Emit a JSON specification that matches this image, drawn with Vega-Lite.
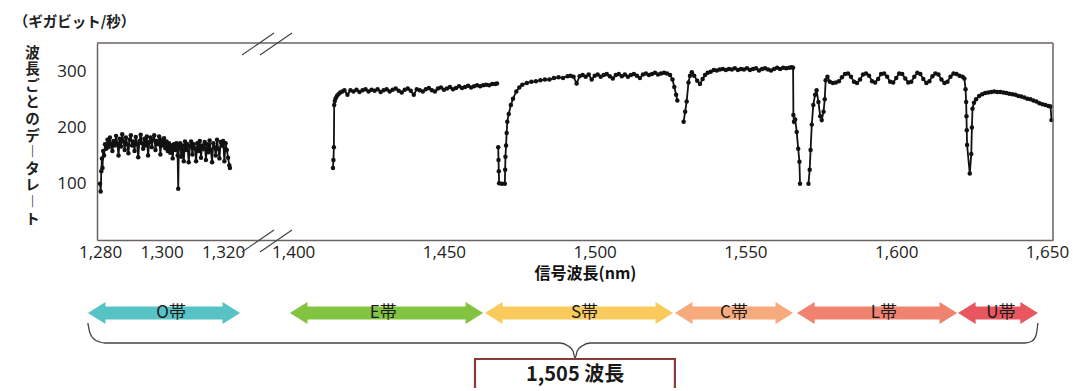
{
  "$schema": "https://vega.github.io/schema/vega-lite/v6.json",
  "padding": {"left": 13, "top": 15, "right": 0, "bottom": 0},
  "background": "white",
  "title": {"text": "（ギガビット/秒）", "anchor": "start", "dx": -11, "dy": 4, "font": "Noto Sans CJK JP", "fontSize": 14.5, "fontWeight": "bold", "color": "#222222", "offset": 4},
  "config": {"view": {"stroke": null}, "font": "Noto Sans CJK JP"},
  "spacing": 10,
  "datasets": {
    "left": [
      {"nm":1280.0,"rate":100},{"nm":1280.2,"rate":86},{"nm":1280.4,"rate":122},{"nm":1280.6,"rate":145},{"nm":1280.8,"rate":128},{"nm":1281.0,"rate":158},{"nm":1281.3,"rate":150},{"nm":1281.6,"rate":170},{"nm":1282.0,"rate":162},{"nm":1282.4,"rate":178},{"nm":1282.8,"rate":165},{"nm":1283.2,"rate":182},{"nm":1283.6,"rate":170},{"nm":1284.0,"rate":158},{"nm":1284.4,"rate":176},{"nm":1284.8,"rate":168},{"nm":1285.2,"rate":185},{"nm":1285.6,"rate":172},{"nm":1286.0,"rate":150},{"nm":1286.4,"rate":180},{"nm":1286.8,"rate":166},{"nm":1287.2,"rate":188},{"nm":1287.6,"rate":175},{"nm":1288.0,"rate":160},{"nm":1288.4,"rate":182},{"nm":1288.8,"rate":170},{"nm":1289.2,"rate":154},{"nm":1289.6,"rate":178},{"nm":1290.0,"rate":186},{"nm":1290.4,"rate":168},{"nm":1290.8,"rate":175},{"nm":1291.2,"rate":158},{"nm":1291.6,"rate":183},{"nm":1292.0,"rate":170},{"nm":1292.4,"rate":147},{"nm":1292.8,"rate":176},{"nm":1293.2,"rate":187},{"nm":1293.6,"rate":172},{"nm":1294.0,"rate":162},{"nm":1294.4,"rate":180},{"nm":1294.8,"rate":168},{"nm":1295.2,"rate":184},{"nm":1295.6,"rate":150},{"nm":1296.0,"rate":174},{"nm":1296.4,"rate":182},{"nm":1296.8,"rate":165},{"nm":1297.2,"rate":178},{"nm":1297.6,"rate":186},{"nm":1298.0,"rate":160},{"nm":1298.4,"rate":176},{"nm":1298.8,"rate":170},{"nm":1299.2,"rate":184},{"nm":1299.6,"rate":152},{"nm":1300.0,"rate":178},{"nm":1300.4,"rate":168},{"nm":1300.8,"rate":181},{"nm":1301.2,"rate":163},{"nm":1301.6,"rate":175},{"nm":1302.0,"rate":158},{"nm":1302.4,"rate":172},{"nm":1302.8,"rate":155},{"nm":1303.2,"rate":168},{"nm":1303.6,"rate":145},{"nm":1304.0,"rate":170},{"nm":1304.4,"rate":160},{"nm":1304.8,"rate":172},{"nm":1305.2,"rate":150},{"nm":1305.4,"rate":91},{"nm":1305.6,"rate":166},{"nm":1306.0,"rate":172},{"nm":1306.4,"rate":148},{"nm":1306.8,"rate":168},{"nm":1307.2,"rate":140},{"nm":1307.6,"rate":175},{"nm":1308.0,"rate":160},{"nm":1308.4,"rate":170},{"nm":1308.8,"rate":138},{"nm":1309.2,"rate":166},{"nm":1309.6,"rate":175},{"nm":1310.0,"rate":152},{"nm":1310.4,"rate":170},{"nm":1310.8,"rate":163},{"nm":1311.2,"rate":140},{"nm":1311.6,"rate":172},{"nm":1312.0,"rate":158},{"nm":1312.4,"rate":176},{"nm":1312.8,"rate":146},{"nm":1313.2,"rate":168},{"nm":1313.6,"rate":162},{"nm":1314.0,"rate":174},{"nm":1314.4,"rate":142},{"nm":1314.8,"rate":170},{"nm":1315.2,"rate":156},{"nm":1315.6,"rate":177},{"nm":1316.0,"rate":160},{"nm":1316.4,"rate":138},{"nm":1316.8,"rate":172},{"nm":1317.2,"rate":165},{"nm":1317.6,"rate":150},{"nm":1318.0,"rate":178},{"nm":1318.4,"rate":162},{"nm":1318.8,"rate":145},{"nm":1319.2,"rate":174},{"nm":1319.6,"rate":168},{"nm":1320.0,"rate":176},{"nm":1320.4,"rate":140},{"nm":1320.8,"rate":172},{"nm":1321.2,"rate":160},{"nm":1321.6,"rate":146},{"nm":1322.0,"rate":133},{"nm":1322.2,"rate":128}
    ],
    "right": [
      {"nm":1413.2,"rate":128,"seg":"E"},{"nm":1413.35,"rate":142,"seg":"E"},{"nm":1413.5,"rate":165,"seg":"E"},{"nm":1413.6,"rate":240,"seg":"E"},{"nm":1413.8,"rate":247,"seg":"E"},{"nm":1414.1,"rate":252,"seg":"E"},{"nm":1414.5,"rate":256,"seg":"E"},{"nm":1415,"rate":259,"seg":"E"},{"nm":1415.6,"rate":262,"seg":"E"},{"nm":1416.3,"rate":264,"seg":"E"},{"nm":1417,"rate":266,"seg":"E"},{"nm":1418,"rate":258,"seg":"E"},{"nm":1419,"rate":266,"seg":"E"},{"nm":1420,"rate":264,"seg":"E"},{"nm":1421,"rate":267,"seg":"E"},{"nm":1422,"rate":263,"seg":"E"},{"nm":1423,"rate":266,"seg":"E"},{"nm":1424,"rate":268,"seg":"E"},{"nm":1425,"rate":264,"seg":"E"},{"nm":1426,"rate":267,"seg":"E"},{"nm":1427,"rate":265,"seg":"E"},{"nm":1428,"rate":268,"seg":"E"},{"nm":1429,"rate":263,"seg":"E"},{"nm":1430,"rate":266,"seg":"E"},{"nm":1431,"rate":268,"seg":"E"},{"nm":1432,"rate":264,"seg":"E"},{"nm":1433,"rate":267,"seg":"E"},{"nm":1434,"rate":269,"seg":"E"},{"nm":1435,"rate":265,"seg":"E"},{"nm":1436,"rate":262,"seg":"E"},{"nm":1437,"rate":267,"seg":"E"},{"nm":1438,"rate":269,"seg":"E"},{"nm":1439,"rate":265,"seg":"E"},{"nm":1440,"rate":258,"seg":"E"},{"nm":1441,"rate":268,"seg":"E"},{"nm":1442,"rate":266,"seg":"E"},{"nm":1443,"rate":264,"seg":"E"},{"nm":1444,"rate":268,"seg":"E"},{"nm":1445,"rate":270,"seg":"E"},{"nm":1446,"rate":266,"seg":"E"},{"nm":1447,"rate":264,"seg":"E"},{"nm":1448,"rate":269,"seg":"E"},{"nm":1449,"rate":271,"seg":"E"},{"nm":1450,"rate":267,"seg":"E"},{"nm":1451,"rate":269,"seg":"E"},{"nm":1452,"rate":272,"seg":"E"},{"nm":1453,"rate":268,"seg":"E"},{"nm":1454,"rate":270,"seg":"E"},{"nm":1455,"rate":273,"seg":"E"},{"nm":1456,"rate":270,"seg":"E"},{"nm":1457,"rate":272,"seg":"E"},{"nm":1458,"rate":274,"seg":"E"},{"nm":1459,"rate":271,"seg":"E"},{"nm":1460,"rate":273,"seg":"E"},{"nm":1461,"rate":275,"seg":"E"},{"nm":1462,"rate":273,"seg":"E"},{"nm":1463,"rate":275,"seg":"E"},{"nm":1464,"rate":276,"seg":"E"},{"nm":1465,"rate":275,"seg":"E"},{"nm":1466,"rate":277,"seg":"E"},{"nm":1467,"rate":277,"seg":"E"},{"nm":1467.6,"rate":278,"seg":"E"},
      {"nm":1468.0,"rate":165,"seg":"S"},{"nm":1468.1,"rate":142,"seg":"S"},{"nm":1468.2,"rate":122,"seg":"S"},{"nm":1468.3,"rate":101,"seg":"S"},{"nm":1469.2,"rate":100,"seg":"S"},{"nm":1470.2,"rate":100,"seg":"S"},{"nm":1470.3,"rate":125,"seg":"S"},{"nm":1470.4,"rate":148,"seg":"S"},{"nm":1470.6,"rate":168,"seg":"S"},{"nm":1470.8,"rate":190,"seg":"S"},{"nm":1471.0,"rate":210,"seg":"S"},{"nm":1471.5,"rate":224,"seg":"S"},{"nm":1472.2,"rate":240,"seg":"S"},{"nm":1472.9,"rate":251,"seg":"S"},{"nm":1474,"rate":264,"seg":"S"},{"nm":1475,"rate":271,"seg":"S"},{"nm":1476,"rate":276,"seg":"S"},{"nm":1477.5,"rate":279,"seg":"S"},{"nm":1479,"rate":281,"seg":"S"},{"nm":1480.5,"rate":282,"seg":"S"},{"nm":1482,"rate":284,"seg":"S"},{"nm":1483.5,"rate":285,"seg":"S"},{"nm":1485,"rate":285,"seg":"S"},{"nm":1486.5,"rate":288,"seg":"S"},{"nm":1488,"rate":289,"seg":"S"},{"nm":1489.5,"rate":288,"seg":"S"},{"nm":1491,"rate":291,"seg":"S"},{"nm":1492,"rate":292,"seg":"S"},{"nm":1493,"rate":290,"seg":"S"},{"nm":1494,"rate":278,"seg":"S"},{"nm":1495,"rate":291,"seg":"S"},{"nm":1496,"rate":293,"seg":"S"},{"nm":1497,"rate":290,"seg":"S"},{"nm":1498,"rate":294,"seg":"S"},{"nm":1499,"rate":285,"seg":"S"},{"nm":1500,"rate":292,"seg":"S"},{"nm":1501,"rate":294,"seg":"S"},{"nm":1502,"rate":290,"seg":"S"},{"nm":1503,"rate":293,"seg":"S"},{"nm":1504,"rate":295,"seg":"S"},{"nm":1505,"rate":291,"seg":"S"},{"nm":1506,"rate":287,"seg":"S"},{"nm":1507,"rate":293,"seg":"S"},{"nm":1508,"rate":295,"seg":"S"},{"nm":1509,"rate":291,"seg":"S"},{"nm":1510,"rate":294,"seg":"S"},{"nm":1511,"rate":290,"seg":"S"},{"nm":1512,"rate":293,"seg":"S"},{"nm":1513,"rate":295,"seg":"S"},{"nm":1514,"rate":292,"seg":"S"},{"nm":1515,"rate":288,"seg":"S"},{"nm":1516,"rate":294,"seg":"S"},{"nm":1517,"rate":296,"seg":"S"},{"nm":1518,"rate":293,"seg":"S"},{"nm":1519,"rate":295,"seg":"S"},{"nm":1520,"rate":297,"seg":"S"},{"nm":1521,"rate":294,"seg":"S"},{"nm":1522,"rate":296,"seg":"S"},{"nm":1523,"rate":297,"seg":"S"},{"nm":1524,"rate":296,"seg":"S"},{"nm":1525,"rate":293,"seg":"S"},{"nm":1525.8,"rate":285,"seg":"S"},{"nm":1526.4,"rate":272,"seg":"S"},{"nm":1527.0,"rate":258,"seg":"S"},{"nm":1527.4,"rate":248,"seg":"S"},
      {"nm":1529.5,"rate":210,"seg":"C"},{"nm":1530.0,"rate":228,"seg":"C"},{"nm":1530.5,"rate":246,"seg":"C"},{"nm":1531.1,"rate":280,"seg":"C"},{"nm":1531.6,"rate":292,"seg":"C"},{"nm":1532.2,"rate":298,"seg":"C"},{"nm":1533,"rate":292,"seg":"C"},{"nm":1534,"rate":283,"seg":"C"},{"nm":1534.9,"rate":277,"seg":"C"},{"nm":1535.8,"rate":286,"seg":"C"},{"nm":1536.6,"rate":293,"seg":"C"},{"nm":1537.5,"rate":297,"seg":"C"},{"nm":1538.5,"rate":299,"seg":"C"},{"nm":1539.5,"rate":302,"seg":"C"},{"nm":1540.5,"rate":301,"seg":"C"},{"nm":1541.5,"rate":303,"seg":"C"},{"nm":1542.5,"rate":304,"seg":"C"},{"nm":1543.5,"rate":302,"seg":"C"},{"nm":1544.5,"rate":304,"seg":"C"},{"nm":1545.5,"rate":303,"seg":"C"},{"nm":1546.5,"rate":305,"seg":"C"},{"nm":1547.5,"rate":302,"seg":"C"},{"nm":1548.5,"rate":304,"seg":"C"},{"nm":1549.5,"rate":303,"seg":"C"},{"nm":1550.5,"rate":305,"seg":"C"},{"nm":1551.5,"rate":302,"seg":"C"},{"nm":1552.5,"rate":304,"seg":"C"},{"nm":1553.5,"rate":305,"seg":"C"},{"nm":1554.5,"rate":301,"seg":"C"},{"nm":1555.5,"rate":304,"seg":"C"},{"nm":1556.5,"rate":305,"seg":"C"},{"nm":1557.5,"rate":303,"seg":"C"},{"nm":1558.5,"rate":301,"seg":"C"},{"nm":1559.5,"rate":304,"seg":"C"},{"nm":1560.5,"rate":306,"seg":"C"},{"nm":1561.5,"rate":304,"seg":"C"},{"nm":1562.5,"rate":306,"seg":"C"},{"nm":1563.5,"rate":305,"seg":"C"},{"nm":1564.5,"rate":306,"seg":"C"},{"nm":1565.3,"rate":307,"seg":"C"},{"nm":1565.8,"rate":306,"seg":"C"},{"nm":1565.9,"rate":222,"seg":"C"},{"nm":1566.1,"rate":210,"seg":"C"},{"nm":1566.5,"rate":214,"seg":"C"},{"nm":1567.0,"rate":192,"seg":"C"},{"nm":1567.5,"rate":162,"seg":"C"},{"nm":1567.9,"rate":139,"seg":"C"},{"nm":1568.1,"rate":100,"seg":"C"},
      {"nm":1570.9,"rate":100,"seg":"L"},{"nm":1571.3,"rate":125,"seg":"L"},{"nm":1571.6,"rate":160,"seg":"L"},{"nm":1572.0,"rate":205,"seg":"L"},{"nm":1572.5,"rate":240,"seg":"L"},{"nm":1573.1,"rate":258,"seg":"L"},{"nm":1573.6,"rate":266,"seg":"L"},{"nm":1574.2,"rate":245,"seg":"L"},{"nm":1574.8,"rate":220,"seg":"L"},{"nm":1575.3,"rate":213,"seg":"L"},{"nm":1575.9,"rate":228,"seg":"L"},{"nm":1576.3,"rate":250,"seg":"L"},{"nm":1576.6,"rate":284,"seg":"L"},{"nm":1577.2,"rate":290,"seg":"L"},{"nm":1578,"rate":281,"seg":"L"},{"nm":1579,"rate":279,"seg":"L"},{"nm":1580,"rate":280,"seg":"L"},{"nm":1581,"rate":282,"seg":"L"},{"nm":1582,"rate":289,"seg":"L"},{"nm":1583,"rate":295,"seg":"L"},{"nm":1584,"rate":296,"seg":"L"},{"nm":1585,"rate":290,"seg":"L"},{"nm":1586,"rate":281,"seg":"L"},{"nm":1587,"rate":279,"seg":"L"},{"nm":1588,"rate":285,"seg":"L"},{"nm":1589,"rate":294,"seg":"L"},{"nm":1590,"rate":296,"seg":"L"},{"nm":1591,"rate":292,"seg":"L"},{"nm":1592,"rate":282,"seg":"L"},{"nm":1593,"rate":280,"seg":"L"},{"nm":1594,"rate":286,"seg":"L"},{"nm":1595,"rate":295,"seg":"L"},{"nm":1596,"rate":296,"seg":"L"},{"nm":1597,"rate":290,"seg":"L"},{"nm":1598,"rate":281,"seg":"L"},{"nm":1599,"rate":280,"seg":"L"},{"nm":1600,"rate":288,"seg":"L"},{"nm":1601,"rate":296,"seg":"L"},{"nm":1602,"rate":295,"seg":"L"},{"nm":1603,"rate":287,"seg":"L"},{"nm":1604,"rate":280,"seg":"L"},{"nm":1605,"rate":281,"seg":"L"},{"nm":1606,"rate":290,"seg":"L"},{"nm":1607,"rate":297,"seg":"L"},{"nm":1608,"rate":295,"seg":"L"},{"nm":1609,"rate":286,"seg":"L"},{"nm":1610,"rate":279,"seg":"L"},{"nm":1611,"rate":282,"seg":"L"},{"nm":1612,"rate":291,"seg":"L"},{"nm":1613,"rate":296,"seg":"L"},{"nm":1614,"rate":294,"seg":"L"},{"nm":1615,"rate":285,"seg":"L"},{"nm":1616,"rate":279,"seg":"L"},{"nm":1617,"rate":281,"seg":"L"},{"nm":1618,"rate":290,"seg":"L"},{"nm":1619,"rate":296,"seg":"L"},{"nm":1620,"rate":295,"seg":"L"},{"nm":1621,"rate":292,"seg":"L"},{"nm":1622,"rate":290,"seg":"L"},{"nm":1622.6,"rate":287,"seg":"L"},{"nm":1623.0,"rate":268,"seg":"L"},{"nm":1623.2,"rate":245,"seg":"L"},{"nm":1623.3,"rate":220,"seg":"L"},{"nm":1623.4,"rate":195,"seg":"L"},{"nm":1623.5,"rate":169,"seg":"L"},{"nm":1624.4,"rate":118,"seg":"L"},{"nm":1624.9,"rate":153,"seg":"L"},{"nm":1625.1,"rate":200,"seg":"L"},{"nm":1625.3,"rate":233,"seg":"L"},{"nm":1625.8,"rate":244,"seg":"L"},{"nm":1626.5,"rate":250,"seg":"L"},{"nm":1627.5,"rate":256,"seg":"L"},{"nm":1628.5,"rate":259,"seg":"L"},{"nm":1629.5,"rate":261,"seg":"L"},{"nm":1630.5,"rate":262,"seg":"L"},{"nm":1631.5,"rate":263,"seg":"L"},{"nm":1632.5,"rate":264,"seg":"L"},{"nm":1633.5,"rate":263,"seg":"L"},{"nm":1634.5,"rate":263,"seg":"L"},{"nm":1635.5,"rate":262,"seg":"L"},{"nm":1636.5,"rate":261,"seg":"L"},{"nm":1637.5,"rate":260,"seg":"L"},{"nm":1638.5,"rate":259,"seg":"L"},{"nm":1639.5,"rate":258,"seg":"L"},{"nm":1640.5,"rate":256,"seg":"L"},{"nm":1641.5,"rate":255,"seg":"L"},{"nm":1642.5,"rate":253,"seg":"L"},{"nm":1643.5,"rate":251,"seg":"L"},{"nm":1644.5,"rate":250,"seg":"L"},{"nm":1645.5,"rate":248,"seg":"L"},{"nm":1646.5,"rate":246,"seg":"L"},{"nm":1647.5,"rate":243,"seg":"L"},{"nm":1648.5,"rate":241,"seg":"L"},{"nm":1649.5,"rate":240,"seg":"L"},{"nm":1650.5,"rate":238,"seg":"L"},{"nm":1651.2,"rate":237,"seg":"L"},{"nm":1651.5,"rate":213,"seg":"L"}
    ],
    "bands": [
      {"band":"O帯","from":1331.9,"to":1382.4,"mid":1359.5},
      {"band":"E帯","from":1398.9,"to":1463.0,"mid":1429.9},
      {"band":"S帯","from":1463.6,"to":1526.0,"mid":1496.6},
      {"band":"C帯","from":1526.6,"to":1565.8,"mid":1546.2},
      {"band":"L帯","from":1567.1,"to":1620.2,"mid":1595.9},
      {"band":"U帯","from":1620.5,"to":1647.0,"mid":1634.7}
    ],
    "brace": [
      {"x":1331.9,"v":32},{"x":1332.6,"v":42},{"x":1333.9,"v":48},{"x":1335.9,"v":51},{"x":1337.6,"v":52},{"x":1488.5,"v":52},{"x":1491.2,"v":55},{"x":1492.8,"v":60},{"x":1493.5,"v":67},{"x":1494.2,"v":60},{"x":1495.8,"v":55},{"x":1498.5,"v":52},{"x":1642.7,"v":52},{"x":1645.1,"v":50},{"x":1646.4,"v":44},{"x":1647.0,"v":32}
    ]
  },
  "vconcat": [
    {
      "hconcat": [
        {
          "width": 160,
          "height": 197,
          "layer": [
            {
              "data": {"name": "left"},
              "mark": {"type": "line", "color": "#111111", "strokeWidth": 1.8, "point": {"filled": true, "size": 20, "color": "#111111"}},
              "encoding": {
                "x": {"field": "nm", "type": "quantitative", "scale": {"domain": [1279, 1331], "nice": false, "zero": false},
                  "axis": {"values": [1280, 1300, 1320], "format": ",d", "title": null, "ticks": false, "grid": false, "domainColor": "#6b6262", "domainWidth": 1.5, "labelFont": "Open Sans", "labelFontSize": 17, "labelColor": "#222222", "labelPadding": 4, "labelFlush": false, "labelOverlap": false}},
                "y": {"field": "rate", "type": "quantitative", "scale": {"domain": [0, 350], "nice": false},
                  "axis": {"values": [100, 200, 300], "ticks": false, "grid": false, "domainColor": "#6b6262", "domainWidth": 1.5, "labelFont": "Open Sans", "labelFontSize": 17, "labelColor": "#222222", "labelPadding": 11, "labelFlush": false,
                    "title": ["波", "長", "ご", "と", "の", "デ", "︱", "タ", "レ", "︱", "ト"], "titleAngle": 0, "titleFont": "Noto Sans CJK JP", "titleFontSize": 14.5, "titleFontWeight": "bold", "titleLineHeight": 16.6, "titleX": -65, "titleY": 3, "titleAlign": "center", "titleBaseline": "top", "titleColor": "#222222"}}
              }
            },
            {
              "data": {"values": [{}]},
              "mark": {"type": "rule", "color": "#6b6262", "strokeWidth": 1.5},
              "encoding": {"y": {"datum": 350}}
            }
          ]
        },
        {
          "width": 796,
          "height": 197,
          "layer": [
            {
              "data": {"name": "right"},
              "mark": {"type": "line", "color": "#111111", "strokeWidth": 1.8, "point": {"filled": true, "size": 20, "color": "#111111"}},
              "encoding": {
                "x": {"field": "nm", "type": "quantitative", "scale": {"domain": [1388, 1652], "nice": false, "zero": false},
                  "axis": {"values": [1400, 1450, 1500, 1550, 1600, 1650], "format": ",d", "ticks": false, "grid": false, "domainColor": "#6b6262", "domainWidth": 1.5, "labelFont": "Open Sans", "labelFontSize": 17, "labelColor": "#222222", "labelPadding": 4, "labelFlush": false, "labelOverlap": false,
                    "title": "信号波長(nm)", "titleFont": "Noto Sans CJK JP", "titleFontSize": 16, "titleFontWeight": "bold", "titleColor": "#111111", "titleX": 328, "titleAlign": "center", "titlePadding": 5}},
                "y": {"field": "rate", "type": "quantitative", "scale": {"domain": [0, 350], "nice": false}, "axis": null},
                "detail": {"field": "seg"}
              }
            },
            {
              "data": {"values": [{}]},
              "mark": {"type": "rule", "color": "#6b6262", "strokeWidth": 1.5},
              "encoding": {"y": {"datum": 350}}
            },
            {
              "data": {"values": [{}]},
              "mark": {"type": "rule", "color": "#6b6262", "strokeWidth": 1.5},
              "encoding": {"x": {"datum": 1652}}
            },
            {
              "data": {"values": [{}]},
              "mark": {"type": "point", "shape": "M-1.5,1.2L1.7,-1M0.3,1.2L3.5,-1", "size": 400, "filled": false, "stroke": "#444444", "strokeWidth": 1.2, "opacity": 1},
              "encoding": {"x": {"datum": 1388}, "y": {"datum": 350}}
            },
            {
              "data": {"values": [{}]},
              "mark": {"type": "point", "shape": "M-1.5,1.2L1.7,-1M0.3,1.2L3.5,-1", "size": 400, "filled": false, "stroke": "#444444", "strokeWidth": 1.2, "opacity": 1},
              "encoding": {"x": {"datum": 1388}, "y": {"datum": 0}}
            }
          ]
        }
      ],
      "spacing": 0,
      "bounds": "flush"
    },
    {
      "width": 956,
      "height": 97,
      "encoding": {
        "x": {"type": "quantitative", "scale": {"domain": [1334.93, 1652], "nice": false, "zero": false}, "axis": null},
        "y": {"type": "quantitative", "scale": {"domain": [0, 97], "nice": false, "reverse": true}, "axis": null}
      },
      "layer": [
        {
          "data": {"name": "bands"},
          "mark": {"type": "rect", "xOffset": 16, "x2Offset": -16},
          "encoding": {
            "x": {"field": "from", "type": "quantitative"},
            "x2": {"field": "to"},
            "y": {"datum": 15.5},
            "y2": {"datum": 28.5},
            "color": {"field": "band", "type": "nominal", "scale": {"domain": ["O帯", "E帯", "S帯", "C帯", "L帯", "U帯"], "range": ["#57c3c4", "#82c341", "#f9cb5c", "#f7ab7c", "#ef8370", "#e8565f"]}, "legend": null}
          }
        },
        {
          "data": {"name": "bands"},
          "mark": {"type": "point", "shape": "M0,0L1.6,-1L1.6,1Z", "size": 484, "filled": true, "opacity": 1, "strokeWidth": 0},
          "encoding": {
            "x": {"field": "from", "type": "quantitative"},
            "y": {"datum": 22},
            "color": {"field": "band", "type": "nominal", "scale": {"domain": ["O帯", "E帯", "S帯", "C帯", "L帯", "U帯"], "range": ["#57c3c4", "#82c341", "#f9cb5c", "#f7ab7c", "#ef8370", "#e8565f"]}, "legend": null}
          }
        },
        {
          "data": {"name": "bands"},
          "mark": {"type": "point", "shape": "M0,0L-1.6,-1L-1.6,1Z", "size": 484, "filled": true, "opacity": 1, "strokeWidth": 0},
          "encoding": {
            "x": {"field": "to", "type": "quantitative"},
            "y": {"datum": 22},
            "color": {"field": "band", "type": "nominal", "scale": {"domain": ["O帯", "E帯", "S帯", "C帯", "L帯", "U帯"], "range": ["#57c3c4", "#82c341", "#f9cb5c", "#f7ab7c", "#ef8370", "#e8565f"]}, "legend": null}
          }
        },
        {
          "data": {"name": "bands"},
          "mark": {"type": "text", "font": "Noto Sans CJK JP", "fontSize": 17, "color": "#1a1a1a", "align": "center", "baseline": "middle"},
          "encoding": {
            "x": {"field": "mid", "type": "quantitative"},
            "y": {"datum": 22},
            "text": {"field": "band"}
          }
        },
        {
          "data": {"name": "brace"},
          "mark": {"type": "line", "color": "#444444", "strokeWidth": 1.3, "interpolate": "monotone"},
          "encoding": {
            "x": {"field": "x", "type": "quantitative"},
            "y": {"field": "v", "type": "quantitative"}
          }
        },
        {
          "data": {"values": [{}]},
          "mark": {"type": "rect", "fill": "white", "stroke": "#8b3a3a", "strokeWidth": 2.2, "clip": true},
          "encoding": {
            "x": {"datum": 1460.3},
            "x2": {"datum": 1526.6},
            "y": {"datum": 68},
            "y2": {"datum": 130}
          }
        },
        {
          "data": {"values": [{"label": "1,505 波長"}]},
          "mark": {"type": "text", "font": "Noto Sans CJK JP", "fontSize": 20, "fontWeight": "bold", "color": "#1a1a1a", "align": "center", "baseline": "middle"},
          "encoding": {
            "x": {"datum": 1493.5},
            "y": {"datum": 84},
            "text": {"field": "label"}
          }
        }
      ]
    }
  ]
}
